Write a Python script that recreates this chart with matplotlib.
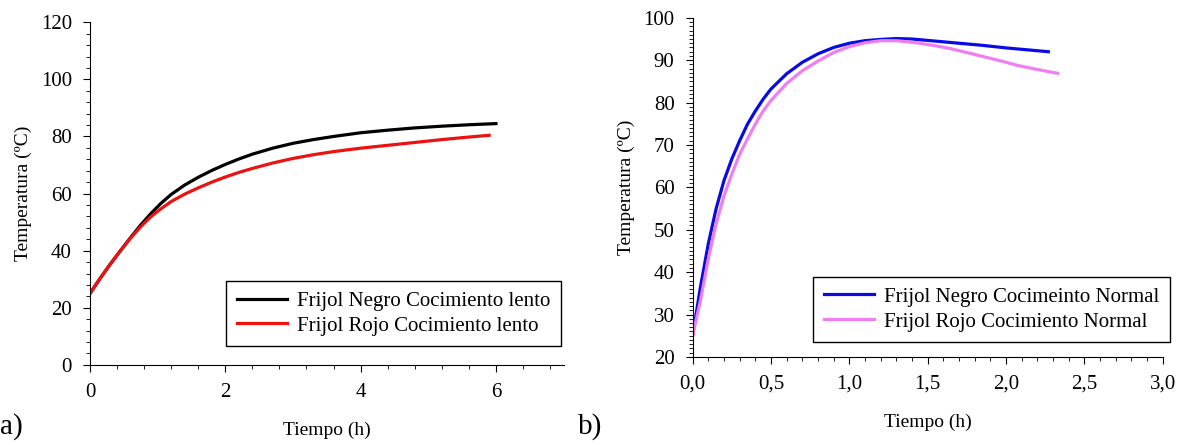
import matplotlib
matplotlib.use("Agg")
import matplotlib.pyplot as plt
from matplotlib.ticker import MultipleLocator, FixedLocator

plt.rcParams["font.family"] = ["Liberation Serif", "DejaVu Serif"]

# a) slow cooking
t_negro_lento = [0.0, 0.15, 0.3, 0.45, 0.6, 0.75, 0.9, 1.05, 1.2, 1.4, 1.6, 1.8, 2.0,
                 2.2, 2.4, 2.7, 3.0, 3.3, 3.6, 4.0, 4.4, 4.8, 5.2, 5.6, 6.0]
negro_lento = [25.0, 30.3, 35.3, 40.0, 44.6, 49.0, 53.0, 56.6, 59.7, 63.0, 65.7, 68.1, 70.2,
               72.1, 73.8, 75.9, 77.6, 78.9, 80.0, 81.3, 82.2, 83.0, 83.6, 84.1, 84.5]
t_rojo_lento = [0.0, 0.15, 0.3, 0.45, 0.6, 0.75, 0.9, 1.05, 1.2, 1.4, 1.6, 1.8, 2.0,
                2.2, 2.4, 2.7, 3.0, 3.3, 3.6, 4.0, 4.4, 4.8, 5.2, 5.6, 5.9]
rojo_lento = [25.0, 30.3, 35.3, 40.0, 44.4, 48.4, 51.9, 54.7, 57.2, 59.8, 62.0, 64.0, 65.8,
              67.4, 68.8, 70.7, 72.3, 73.6, 74.7, 75.9, 76.9, 77.9, 78.9, 79.8, 80.4]

# b) normal cooking
t_negro_normal = [0.0, 0.05, 0.1, 0.15, 0.2, 0.25, 0.3, 0.35, 0.4, 0.45, 0.5, 0.6, 0.7,
                  0.8, 0.9, 1.0, 1.1, 1.2, 1.3, 1.4, 1.55, 1.7, 1.85, 2.0, 2.15, 2.27]
negro_normal = [25.0, 36.5, 46.7, 55.0, 61.6, 66.7, 71.0, 74.9, 78.0, 80.8, 83.2, 86.8, 89.5,
                91.5, 93.0, 94.0, 94.6, 94.9, 95.1, 95.0, 94.5, 94.0, 93.5, 92.9, 92.4, 92.0]
t_rojo_normal = [0.0, 0.05, 0.1, 0.15, 0.2, 0.25, 0.3, 0.35, 0.4, 0.45, 0.5, 0.6, 0.7,
                 0.8, 0.9, 1.0, 1.1, 1.2, 1.3, 1.43, 1.55, 1.65, 1.75, 1.86, 1.97, 2.07,
                 2.2, 2.33]
rojo_normal = [25.0, 33.3, 43.1, 51.4, 58.0, 63.1, 67.8, 71.4, 74.9, 78.0, 80.5, 84.5, 87.5,
               89.8, 91.8, 93.2, 94.1, 94.6, 94.6, 94.1, 93.4, 92.7, 91.8, 90.8, 89.8, 88.8,
               87.8, 86.9]

fig = plt.figure(figsize=(11.84, 4.45), dpi=100)
ax1 = fig.add_axes([0.076, 0.180, 0.400, 0.770])
ax2 = fig.add_axes([0.585, 0.198, 0.397, 0.762])

leg_kw = dict(loc="lower right", fontsize=15, fancybox=False, edgecolor="black",
              framealpha=1, handlelength=2.4, handletextpad=0.5, borderpad=0.5,
              labelspacing=0.25, borderaxespad=0)

ax1.plot(t_negro_lento, negro_lento, color="black", lw=2.3,
         label="Frijol Negro Cocimiento lento")
ax1.plot(t_rojo_lento, rojo_lento, color="#ee1111", lw=2.3,
         label="Frijol Rojo Cocimiento lento")
ax1.set_xlim(0, 7)
ax1.set_ylim(0, 120)
ax1.xaxis.set_major_locator(FixedLocator([0, 2, 4, 6]))
ax1.xaxis.set_minor_locator(MultipleLocator(0.4))
ax1.yaxis.set_major_locator(MultipleLocator(20))
ax1.yaxis.set_minor_locator(MultipleLocator(4))
ax1.set_xlabel("Tiempo (h)", fontsize=14, labelpad=14)
ax1.set_ylabel("Temperatura (ºC)", fontsize=14, labelpad=6)
ax1.legend(bbox_to_anchor=(0.994, 0.055), **leg_kw)

ax2.plot(t_negro_normal, negro_normal, color="#0a0ae6", lw=2.3,
         label="Frijol Negro Cocimeinto Normal")
ax2.plot(t_rojo_normal, rojo_normal, color="#f07ef0", lw=2.3,
         label="Frijol Rojo Cocimiento Normal")
ax2.set_xlim(0, 3)
ax2.set_ylim(20, 100)
xt = [0.0, 0.5, 1.0, 1.5, 2.0, 2.5, 3.0]
ax2.set_xticks(xt)
ax2.set_xticklabels([f"{v:.1f}".replace(".", ",") for v in xt])
ax2.xaxis.set_minor_locator(MultipleLocator(0.1))
ax2.yaxis.set_major_locator(MultipleLocator(10))
ax2.yaxis.set_minor_locator(MultipleLocator(1))
ax2.set_xlabel("Tiempo (h)", fontsize=14, labelpad=14)
ax2.set_ylabel("Temperatura (ºC)", fontsize=14, labelpad=6)
ax2.legend(bbox_to_anchor=(1.015, 0.044), **leg_kw)

for ax in (ax1, ax2):
    ax.spines["top"].set_visible(False)
    ax.spines["right"].set_visible(False)
    ax.tick_params(which="major", direction="out", length=5, labelsize=15, pad=8)
    ax.tick_params(which="minor", direction="out", length=3)

fig.text(0.0, 0.025, "a)", fontsize=21)
fig.text(0.488, 0.025, "b)", fontsize=21)

fig.savefig("out.png", dpi=100)
